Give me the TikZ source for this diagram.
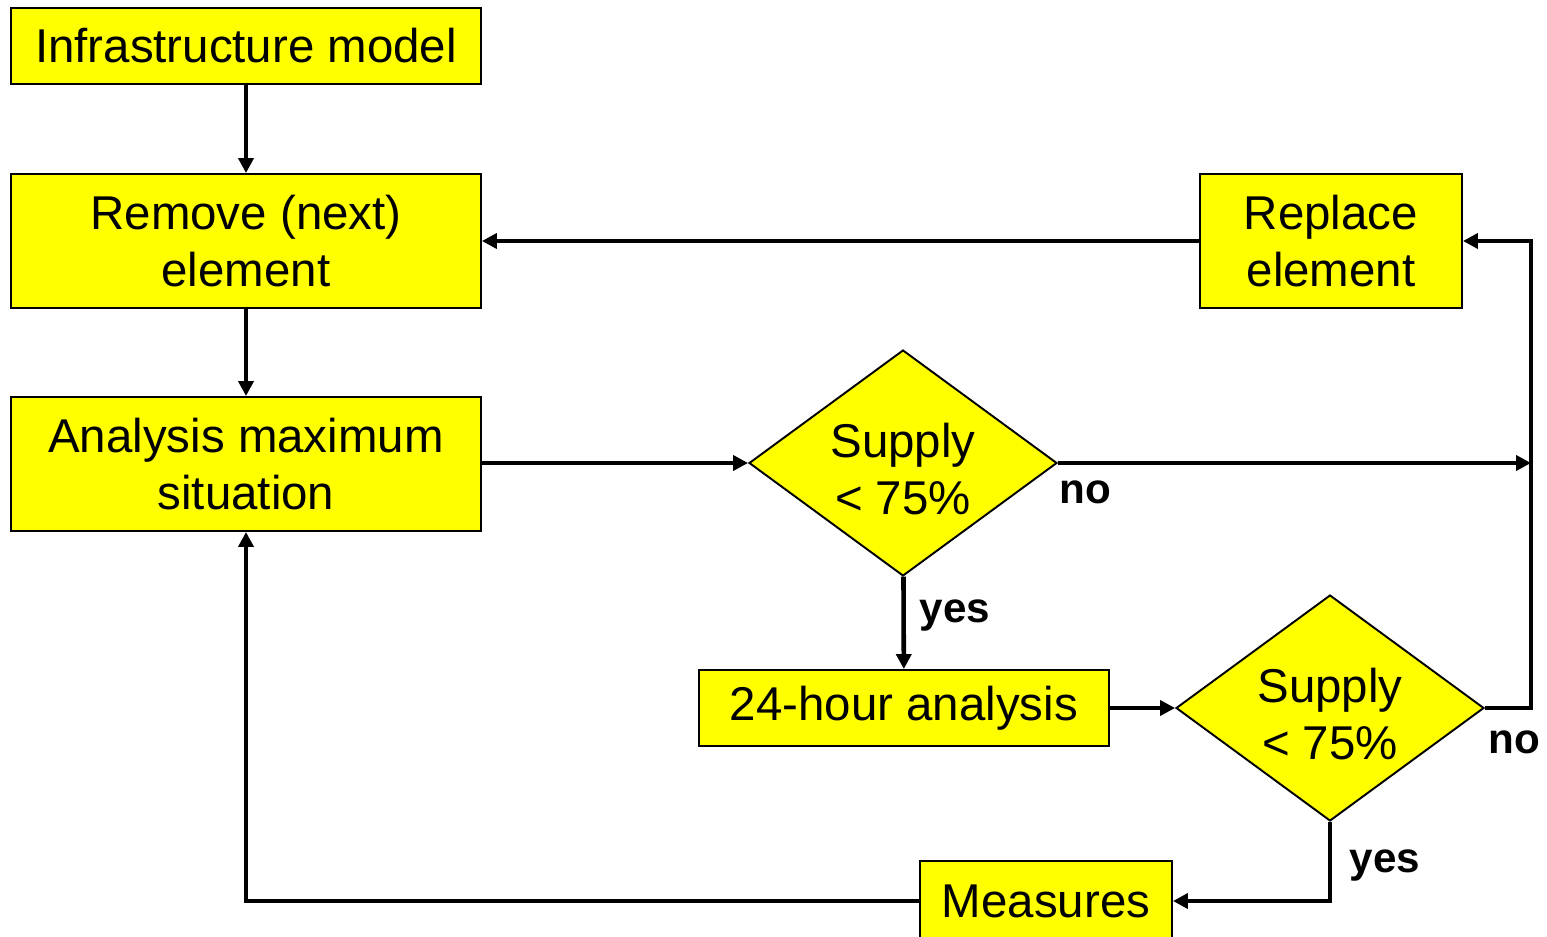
\documentclass[tikz,border=0pt]{standalone}
\usepackage{fontspec}
\setmainfont{Liberation Sans}
\usetikzlibrary{shapes.geometric,arrows.meta,positioning}
\definecolor{boxyellow}{RGB}{255,255,0}

\begin{document}
\begin{tikzpicture}[x=0.02cm, y=-0.02cm,
    box/.style={draw, line width=1.1pt, fill=boxyellow, align=center, inner sep=0pt,
        font=\fontsize{27}{32}\selectfont},
    decision/.style={diamond, draw, line width=1.1pt, fill=boxyellow, align=center, inner sep=0pt,
        shape aspect=1.36, minimum width=6.16cm, minimum height=4.52cm,
        font=\fontsize{27}{32}\selectfont},
    flow/.style={line width=2.6pt, -{Triangle[length=8.5pt,width=8.5pt]}},
    tag/.style={font=\bfseries\fontsize{24}{28}\selectfont}]
        \useasboundingbox (0,0) rectangle (1547,936);
        \clip (0,0) rectangle (1547,936);

        % left column
        \node[box, minimum width=9.4cm, minimum height=1.52cm] (model) at (246,46) {Infrastructure model};
        \node[box, minimum width=9.4cm, minimum height=2.68cm] (remove) at (246,241) {Remove (next)\\element};
        \node[box, minimum width=9.4cm, minimum height=2.68cm] (analysis) at (246,464) {Analysis maximum\\situation};

        % right part
        \node[box, minimum width=5.24cm, minimum height=2.68cm] (replace) at (1331,241) {Replace\\element};
        \node[decision] (check1) at (903,463) {\rule{0pt}{26.5pt}Supply\\< 75\%};
        \node[box, minimum width=8.2cm, minimum height=1.52cm] (day) at (904,708) {24-hour analysis};
        \node[decision] (check2) at (1330,708) {\rule{0pt}{26.5pt}Supply\\< 75\%};
        \node[box, minimum width=5.04cm, minimum height=1.6cm] (measures) at (1046,901) {Measures};
        \coordinate (loop) at (1531,463);

        % labels
        \node[tag] (no1) at (1085,492) {no};
        \node[tag] (yes1) at (955,616) {yes};
        \node[tag] (no2) at (1514,742) {no};
        \node[tag] (yes2) at (1385,866) {yes};

        % connectors
        \draw[flow] (model) -- (remove);
        \draw[flow] (remove) -- (analysis);
        \draw[flow] (analysis.east |- check1) -- (check1);
        \draw[flow] (check1) -- (loop);
        \draw[flow] (check1) -- (day);
        \draw[flow] (day) -- (check2);
        \draw[flow] (check2.east) -- (check2.east -| loop) -- (replace.east -| loop) -- (replace.east);
        \draw[flow] (replace) -- (remove);
        \draw[flow] (check2.south) |- (measures.east);
        \draw[flow] (measures.west) -| (analysis.south);
\end{tikzpicture}
\end{document}
